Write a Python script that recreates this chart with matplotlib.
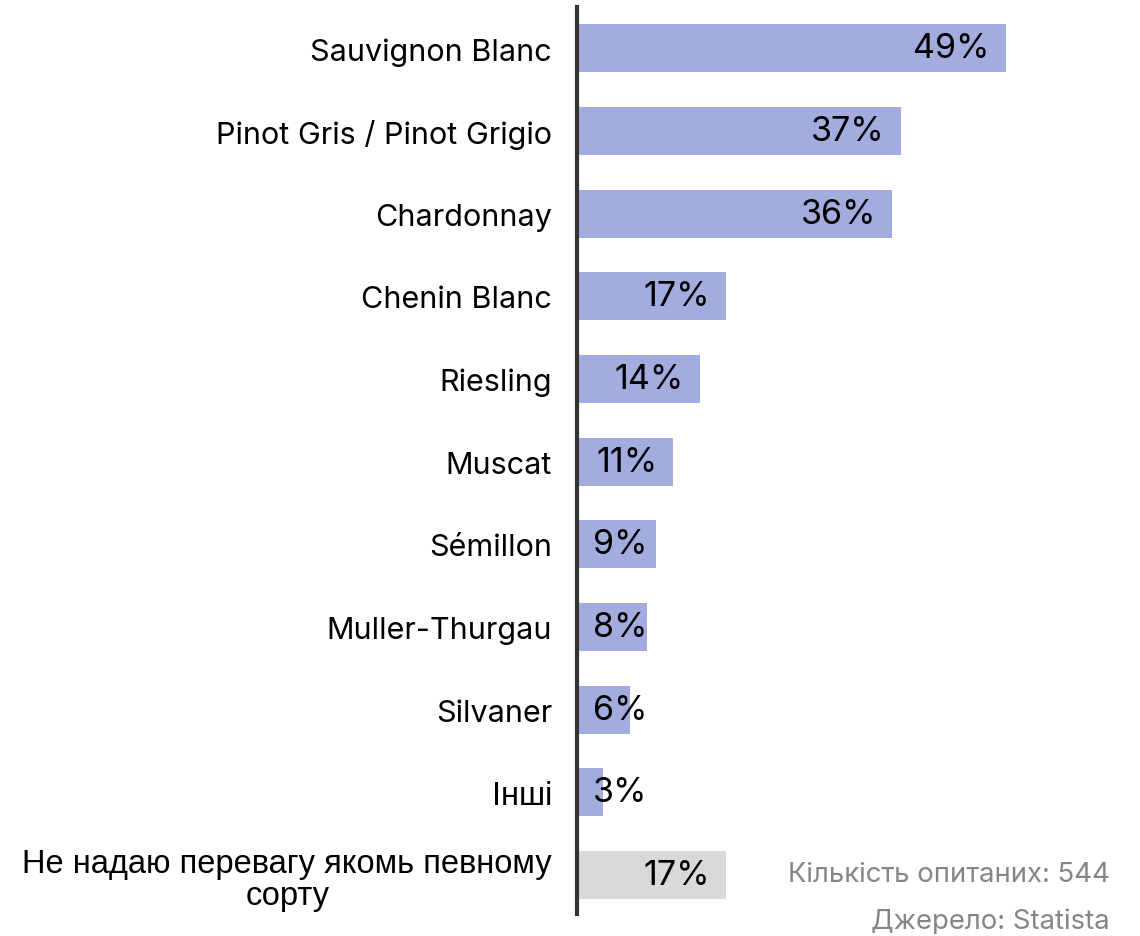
import matplotlib.pyplot as plt

labels = ["Sauvignon Blanc", "Pinot Gris / Pinot Grigio", "Chardonnay", "Chenin Blanc",
          "Riesling", "Muscat", "Sémillon", "Muller-Thurgau", "Silvaner", "Інші",
          "Не надаю перевагу якомь певному\nсорту"]
values = [49, 37, 36, 17, 14, 11, 9, 8, 6, 3, 17]
colors = ["#a3acdf"] * 10 + ["#d9d9d9"]
note_n = "Кількість опитаних: 544"
note_src = "Джерело: Statista"

fig = plt.figure(figsize=(11.4, 9.37), dpi=100)
ax = fig.add_axes([577 / 1140, 22 / 937, 525 / 1140, 907 / 937])

pos = list(range(len(values)))
ax.barh(pos, values, height=0.58, color=colors)
ax.set_xlim(0, 60)
ax.set_ylim(10.47, -0.5)

ax.set_yticks(pos)
ax.set_yticklabels(labels, fontsize=22, ha="right")
for t in ax.get_yticklabels():
    t.set_multialignment("center")
    t.set_linespacing(1.05)
    if any("\u0400" <= c <= "\u04ff" for c in t.get_text()):
        t.set_family("Liberation Sans")
        t.set_fontsize(23.5)
    else:
        t.set_family("Inter")
ax.tick_params(axis="y", length=0, pad=18)
ax.set_xticks([])

for s in ["top", "right", "bottom"]:
    ax.spines[s].set_visible(False)
ax.spines["left"].set_linewidth(3)
ax.spines["left"].set_color("#333333")

px = 60 / 525  # data units per pixel
for i, v in enumerate(values):
    if v >= 11:
        ax.text(v - 16 * px, i, f"{v}%", ha="right", va="center", fontsize=24.5, family="Inter")
    else:
        ax.text(16 * px, i, f"{v}%", ha="left", va="center", fontsize=24.5, family="Inter")

fig.text(1110 / 1140, 1 - 875 / 937, note_n, ha="right", va="center", fontsize=19.8,
         color="#858585", family="Inter")
fig.text(1110 / 1140, 1 - 922 / 937, note_src, ha="right", va="center", fontsize=19.8,
         color="#858585", family="Inter")

fig.savefig("out.png", dpi=100)
